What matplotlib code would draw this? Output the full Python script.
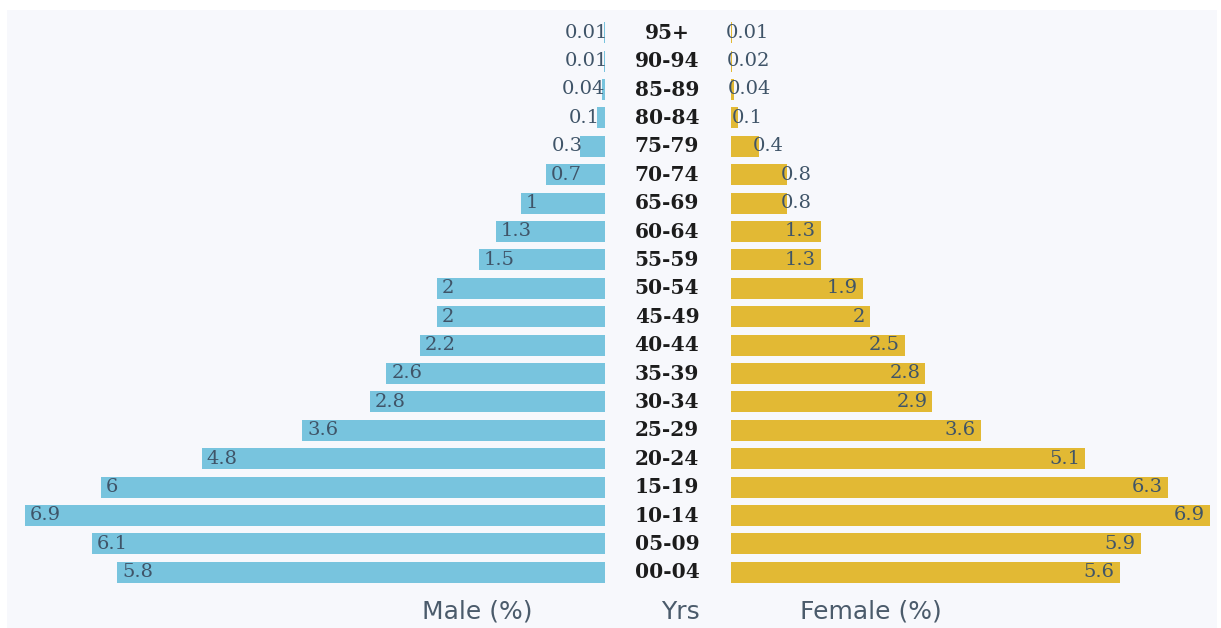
import matplotlib.pyplot as plt
from matplotlib.transforms import blended_transform_factory

# age groups, bottom to top
ages = ["00-04", "05-09", "10-14", "15-19", "20-24", "25-29", "30-34", "35-39",
        "40-44", "45-49", "50-54", "55-59", "60-64", "65-69", "70-74", "75-79",
        "80-84", "85-89", "90-94", "95+"]
male = [5.8, 6.1, 6.9, 6, 4.8, 3.6, 2.8, 2.6, 2.2, 2, 2, 1.5, 1.3, 1, 0.7, 0.3,
        0.1, 0.04, 0.01, 0.01]
female = [5.6, 5.9, 6.9, 6.3, 5.1, 3.6, 2.9, 2.8, 2.5, 2, 1.9, 1.3, 1.3, 0.8, 0.8,
          0.4, 0.1, 0.04, 0.02, 0.01]
male_lbl = ["5.8", "6.1", "6.9", "6", "4.8", "3.6", "2.8", "2.6", "2.2", "2", "2",
            "1.5", "1.3", "1", "0.7", "0.3", "0.1", "0.04", "0.01", "0.01"]
female_lbl = ["5.6", "5.9", "6.9", "6.3", "5.1", "3.6", "2.9", "2.8", "2.5", "2",
              "1.9", "1.3", "1.3", "0.8", "0.8", "0.4", "0.1", "0.04", "0.02", "0.01"]

BLUE = "#78c4de"
GOLD = "#e2b934"
VAL = "#3f5468"
BG = "#f7f8fc"

W, H = 1221, 628
fig = plt.figure(figsize=(W / 100, H / 100), dpi=100)
fig.patch.set_facecolor("white")

# light panel behind everything
ax_bg = fig.add_axes([7 / W, 0, (1217 - 7) / W, 1 - 10 / H], zorder=-5)
ax_bg.set_facecolor(BG)
ax_bg.set_xticks([])
ax_bg.set_yticks([])
for s in ax_bg.spines.values():
    s.set_visible(False)

bot = 1 - 586.5 / H
hgt = 568 / H
ax_m = fig.add_axes([25 / W, bot, (605 - 25) / W, hgt])
ax_f = fig.add_axes([731 / W, bot, (1210 - 731) / W, hgt])

y = list(range(len(ages)))
ax_m.barh(y, male, height=0.74, color=BLUE)
ax_f.barh(y, female, height=0.74, color=GOLD)
ax_m.set_xlim(6.9, 0)
ax_f.set_xlim(0, 6.9)

vfont = dict(family="DejaVu Serif", fontsize=14, color=VAL)
for i, v in enumerate(male):
    if v >= 0.5:
        ax_m.annotate(male_lbl[i], (v, i), xytext=(3.6, 0), textcoords="offset points",
                      ha="left", va="center", **vfont)
    else:
        ax_m.annotate(male_lbl[i], (v, i), xytext=(2.5, 0), textcoords="offset points",
                      ha="right", va="center", **vfont)
for i, v in enumerate(female):
    if v >= 1:
        ax_f.annotate(female_lbl[i], (v, i), xytext=(-3.6, 0), textcoords="offset points",
                      ha="right", va="center", **vfont)
    else:
        ax_f.annotate(female_lbl[i], (v, i), xytext=(-4.3, 0), textcoords="offset points",
                      ha="left", va="center", **vfont)

for ax in (ax_m, ax_f):
    ax.set_ylim(-0.5, len(ages) - 0.5)
    ax.axis("off")

tr = blended_transform_factory(fig.transFigure, ax_m.transData)
for i, a in enumerate(ages):
    ax_m.text(667 / W, i, a, transform=tr, ha="center", va="center",
              family="DejaVu Serif", fontweight="bold", fontsize=14.5, color="#1c1c1c",
              clip_on=False)

bfont = dict(family="DejaVu Sans", fontsize=18, fontweight="medium", color="#4b5b6b",
             va="center", ha="center")
fig.text(477 / W, 1 - 612 / H, "Male (%)", **bfont)
fig.text(680 / W, 1 - 612 / H, "Yrs", **bfont)
fig.text(871 / W, 1 - 612 / H, "Female (%)", **bfont)

fig.savefig("out.png", dpi=100, facecolor=fig.get_facecolor())
